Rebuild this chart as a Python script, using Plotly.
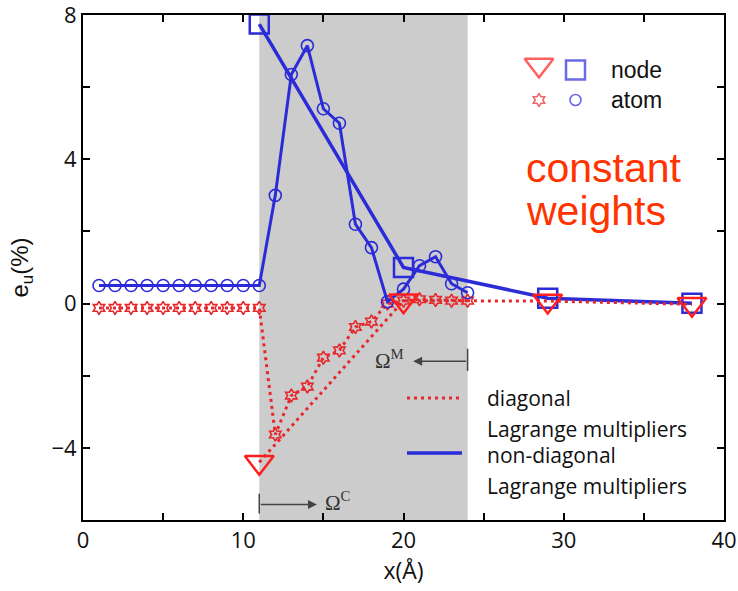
import plotly.graph_objects as go

# ---------------- data ----------------
atom_x = list(range(1, 25))
atom_red = [-0.12, -0.12, -0.12, -0.12, -0.12, -0.12, -0.12, -0.12, -0.12, -0.12, -0.12,
            -3.63, -2.55, -2.3, -1.5, -1.3, -0.65, -0.5, 0.0, 0.08, 0.12, 0.1, 0.08, 0.08]
atom_blue = [0.5, 0.5, 0.5, 0.5, 0.5, 0.5, 0.5, 0.5, 0.5, 0.5, 0.5,
             3.0, 6.35, 7.15, 5.4, 5.0, 2.2, 1.55, 0.05, 0.4, 1.05, 1.3, 0.55, 0.3]
node_x = [11, 20, 29, 38]
node_red = [-4.4, 0.08, 0.07, -0.02]
node_blue = [7.75, 1.0, 0.15, 0.01]

x_tickvals = [0, 10, 20, 30, 40]
x_ticktext = ["0", "10", "20", "30", "40"]
x_minorvals = [5, 15, 25, 35]
y_tickvals = [-4, 0, 4, 8]
y_ticktext = ["\u22124", "0", "4", "8"]
y_minorvals = [-6, -2, 2, 6]

overlap_region = [11, 24]

RED = "#E6282C"
RED_NODE = "#FF1E1E"
BLUE = "#2B2BD8"
TXT = "Open Sans"
DOT = "3px,4px"

fig = go.Figure()

# red atoms (diagonal)
fig.add_trace(go.Scatter(x=atom_x, y=atom_red, mode="lines+markers",
                         line=dict(color=RED, width=3, dash=DOT),
                         marker=dict(symbol="hexagram-open", size=10, color=RED,
                                     line=dict(width=1.6, color=RED)),
                         cliponaxis=False, showlegend=False))
# blue atoms (non-diagonal)
fig.add_trace(go.Scatter(x=atom_x, y=atom_blue, mode="lines+markers",
                         line=dict(color=BLUE, width=3),
                         marker=dict(symbol="circle-open", size=12, color=BLUE,
                                     line=dict(width=1.6, color=BLUE)),
                         cliponaxis=False, showlegend=False))
# blue nodes
fig.add_trace(go.Scatter(x=node_x, y=node_blue, mode="lines+markers",
                         line=dict(color=BLUE, width=3.5),
                         marker=dict(symbol="square-open", size=19, color=BLUE,
                                     line=dict(width=2.5, color=BLUE)),
                         cliponaxis=False, showlegend=False))
# red nodes
fig.add_trace(go.Scatter(x=node_x, y=node_red, mode="lines+markers",
                         line=dict(color=RED, width=3, dash=DOT),
                         marker=dict(symbol="triangle-down-open", size=25, color=RED_NODE,
                                     line=dict(width=2.5, color=RED_NODE)),
                         cliponaxis=False, showlegend=False))

# ---------------- legend glyphs (overlay axes in pixel units) ----------------
fig.add_trace(go.Scatter(x=[539, 539], y=[65, 100], xaxis="x2", yaxis="y2", mode="markers",
                         marker=dict(symbol=["triangle-down-open", "hexagram-open"], size=[25, 10],
                                     color=[RED_NODE, RED], line=dict(width=[2.5, 1.6], color=[RED_NODE, RED])),
                         cliponaxis=False, showlegend=False, hoverinfo="skip"))
fig.add_trace(go.Scatter(x=[575.5, 575.5], y=[70, 100], xaxis="x2", yaxis="y2", mode="markers",
                         marker=dict(symbol=["square-open", "circle-open"], size=[19, 11],
                                     color=BLUE, line=dict(width=[2.5, 1.6], color=BLUE)),
                         cliponaxis=False, showlegend=False, hoverinfo="skip"))
fig.add_trace(go.Scatter(x=[407, 460], y=[398, 398], xaxis="x2", yaxis="y2", mode="lines",
                         line=dict(color=RED, width=3, dash=DOT),
                         cliponaxis=False, showlegend=False, hoverinfo="skip"))
fig.add_trace(go.Scatter(x=[407, 462], y=[453, 453], xaxis="x2", yaxis="y2", mode="lines",
                         line=dict(color=BLUE, width=3.5),
                         cliponaxis=False, showlegend=False, hoverinfo="skip"))

shapes = [
    dict(type="rect", xref="x", yref="paper", x0=overlap_region[0], x1=overlap_region[1],
         y0=0, y1=1, fillcolor="#CCCCCC", line=dict(width=0), layer="below"),
    dict(type="line", xref="x", yref="y", x0=24, x1=24, y0=-1.25, y1=-1.87,
         line=dict(color="#444444", width=1.5)),
    dict(type="line", xref="x", yref="y", x0=11, x1=11, y0=-5.27, y1=-5.82,
         line=dict(color="#444444", width=1.5)),
]

annotations = [
    # arrows
    dict(x=20.6, y=-1.6, ax=24, ay=-1.6, xref="x", yref="y", axref="x", ayref="y",
         text="", showarrow=True, arrowhead=2, arrowsize=1.2, arrowwidth=1.5, arrowcolor="#444444"),
    dict(x=14.6, y=-5.57, ax=11, ay=-5.57, xref="x", yref="y", axref="x", ayref="y",
         text="", showarrow=True, arrowhead=2, arrowsize=1.2, arrowwidth=1.5, arrowcolor="#444444"),
    dict(x=19.1, y=-1.55, xref="x", yref="y", text="\u03A9<sup>M</sup>", showarrow=False,
         font=dict(family="Liberation Serif", size=21, color="#333333")),
    dict(x=15.9, y=-5.5, xref="x", yref="y", text="\u03A9<sup>C</sup>", showarrow=False,
         font=dict(family="Liberation Serif", size=21, color="#333333")),
    # top legend text
    dict(x=609, y=70, xref="x2", yref="y2", text="node", showarrow=False, xanchor="left",
         font=dict(family="Liberation Sans", size=23, color="#111111")),
    dict(x=609, y=100, xref="x2", yref="y2", text="atom", showarrow=False, xanchor="left",
         font=dict(family="Liberation Sans", size=23, color="#111111")),
    dict(x=524, y=168, xref="x2", yref="y2", text="constant", showarrow=False, xanchor="left",
         font=dict(family="Liberation Sans", size=41, color="#FF3300")),
    dict(x=524, y=211, xref="x2", yref="y2", text="weights", showarrow=False, xanchor="left",
         font=dict(family="Liberation Sans", size=41, color="#FF3300")),
    # bottom legend text
    dict(x=485, y=398, xref="x2", yref="y2", text="diagonal", showarrow=False, xanchor="left",
         font=dict(family=TXT, size=21, color="#111111")),
    dict(x=485, y=429, xref="x2", yref="y2", text="Lagrange multipliers", showarrow=False, xanchor="left",
         font=dict(family=TXT, size=21, color="#111111")),
    dict(x=485, y=455, xref="x2", yref="y2", text="non-diagonal", showarrow=False, xanchor="left",
         font=dict(family=TXT, size=21, color="#111111")),
    dict(x=485, y=486, xref="x2", yref="y2", text="Lagrange multipliers", showarrow=False, xanchor="left",
         font=dict(family=TXT, size=21, color="#111111")),
]

axis_common = dict(showline=True, linewidth=2, linecolor="black", mirror="ticks",
                   ticks="inside", ticklen=7, tickwidth=2, tickcolor="black",
                   showgrid=False, zeroline=False, automargin=False,
                   ticklabeloverflow="allow",
                   tickfont=dict(family=TXT, size=22, color="#111111"))

fig.update_layout(
    width=738, height=591,
    margin=dict(l=83, r=14, t=15, b=71),
    paper_bgcolor="white", plot_bgcolor="white",
    xaxis=dict(range=[0, 40], tickmode="array", tickvals=x_tickvals, ticktext=x_ticktext,
               minor=dict(tickmode="array", tickvals=x_minorvals, ticks="inside", ticklen=7,
                          tickwidth=2, tickcolor="black"),
               title=dict(text="x(\u00C5)", font=dict(family=TXT, size=23, color="#111111"), standoff=6),
               **axis_common),
    yaxis=dict(range=[-6, 8], tickmode="array", tickvals=y_tickvals, ticktext=y_ticktext,
               minor=dict(tickmode="array", tickvals=y_minorvals, ticks="inside", ticklen=7,
                          tickwidth=2, tickcolor="black"),
               title=dict(text="e<sub>u</sub>(%)", font=dict(family="Liberation Sans", size=24, color="#111111"),
                          standoff=16),
               **axis_common),
    xaxis2=dict(overlaying="x", range=[83, 724], visible=False, fixedrange=True, automargin=False),
    yaxis2=dict(overlaying="y", range=[520, 15], visible=False, fixedrange=True, automargin=False),
    shapes=shapes,
    annotations=annotations,
    showlegend=False,
)

fig.write_html("out.html")
